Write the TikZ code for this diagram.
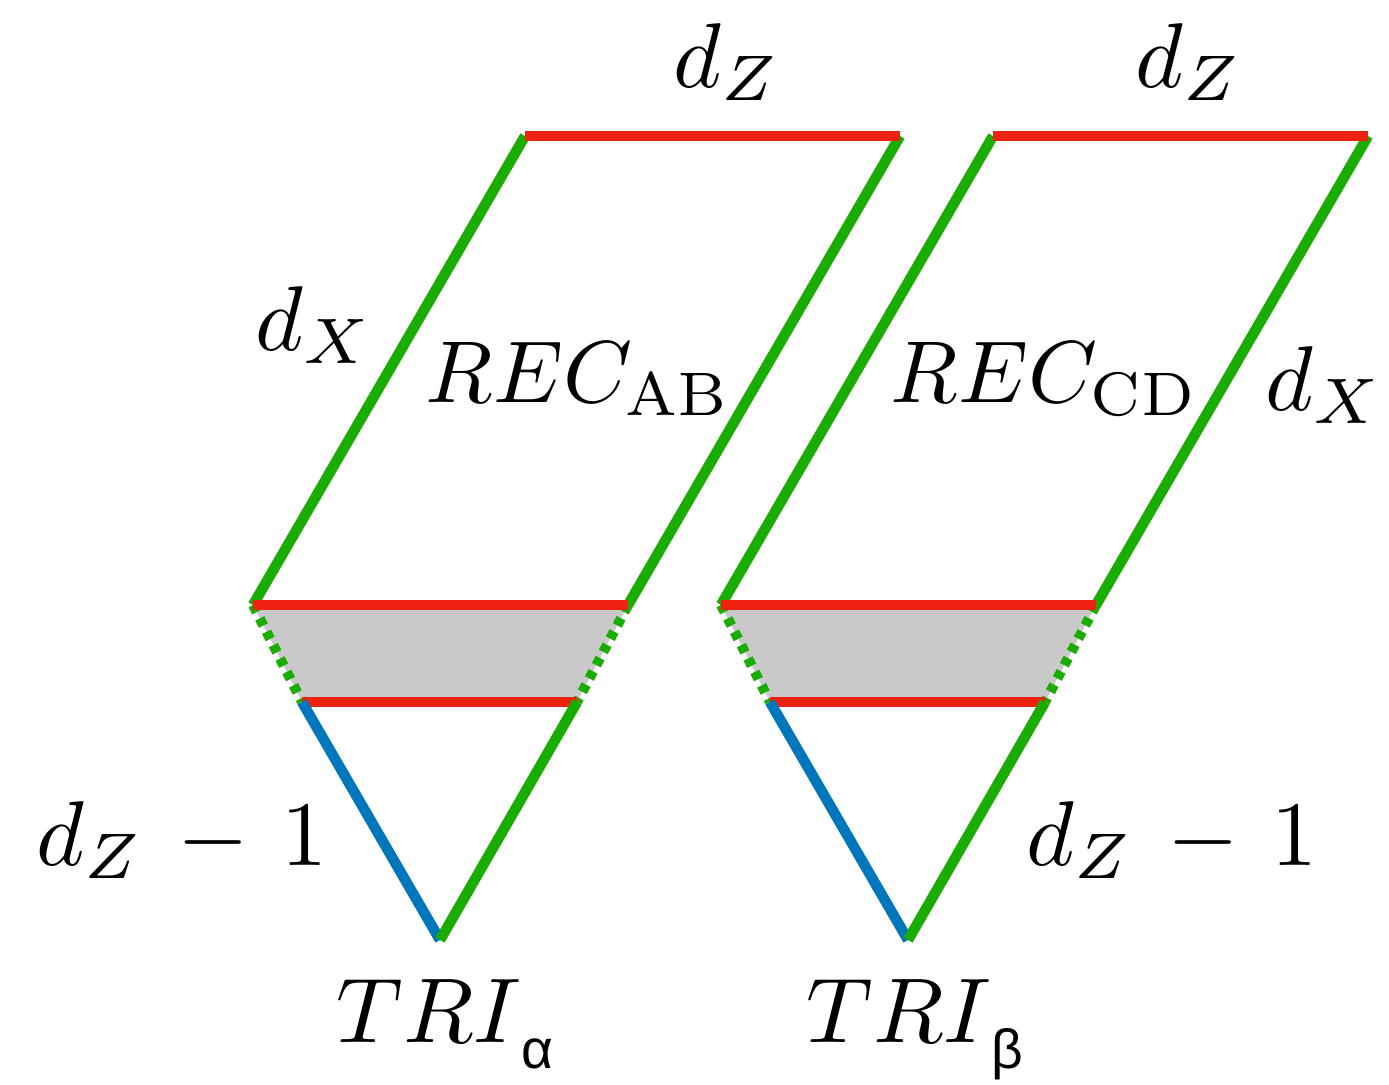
\documentclass[tikz,border=0pt]{standalone}
\usepackage{fontspec}
\newfontfamily\grk{Liberation Sans}
\definecolor{cgreen}{RGB}{26,172,0}
\definecolor{cred}{RGB}{238,34,17}
\definecolor{cblue}{RGB}{0,119,187}
\definecolor{cgray}{RGB}{200,201,200}
\tikzset{
  gline/.style={draw=cgreen,line width=10.5pt},
  rline/.style={draw=cred,line width=10.5pt},
  bline/.style={draw=cblue,line width=10.5pt},
  gdot/.style={draw=cgreen,line width=10pt,dash pattern=on 8pt off 7pt},
  lbl/.style={inner sep=0pt,anchor=base west,scale=9.2,font=\fontsize{10}{12}\selectfont},
}
\newcommand{\grksub}[1]{{\fontsize{6}{7}\selectfont\grk #1}}
\begin{document}
\begin{tikzpicture}[x=1pt,y=-1pt]
\useasboundingbox (0,0) rectangle (1389,1084);
\foreach \s/\o in {L/0,R/468}{
  \begin{scope}[xshift=\o pt]
  \coordinate (\s tl) at (525,136);
  \coordinate (\s tr) at (900,136);
  \coordinate (\s ml) at (253,605);
  \coordinate (\s mr) at (628,605);
  \coordinate (\s bl) at (302,702);
  \coordinate (\s br) at (577,702);
  \coordinate (\s tip) at (440,940);
  \end{scope}
  \fill[cgray] (\s ml) -- (\s mr) -- (\s br) -- (\s bl) -- cycle;
  \draw[gdot] (\s ml) -- (\s bl);
  \draw[gdot] (\s mr) -- (\s br);
  \draw[gline] (\s tl) -- (\s ml);
  \draw[gline] (\s tr) -- (\s mr);
  \draw[rline] (\s tl) -- (\s tr);
  \draw[rline] (\s ml) -- (\s mr);
  \draw[rline] (\s bl) -- (\s br);
  \draw[bline] (\s bl) -- (\s tip);
  \draw[gline] (\s br) -- (\s tip);
}
\node[lbl] (dz1) at (672,87) {$d_Z$};
\node[lbl] (dz2) at (1134,87) {$d_Z$};
\node[lbl] (dx1) at (254,350) {$d_X$};
\node[lbl] (dx2) at (1264,410) {$d_X$};
\node[lbl,scale=0.955] (rec1) at (424,402) {$REC_{\mathrm{AB}}$};
\node[lbl,scale=0.955] (rec2) at (889,402) {$REC_{\mathrm{CD}}$};
\node[lbl] (dzm1) at (35,865) {$d_Z\mkern2.5mu-\mkern2.5mu1$};
\node[lbl] (dzm2) at (1025,865) {$d_Z\mkern2.5mu-\mkern2.5mu1$};
\node[lbl] (tri1) at (335,1042) {$TRI$\raisebox{-0.29em}{\grksub{α}}};
\node[lbl] (tri2) at (805,1042) {$TRI$\raisebox{-0.29em}{\grksub{β}}};
\end{tikzpicture}
\end{document}
